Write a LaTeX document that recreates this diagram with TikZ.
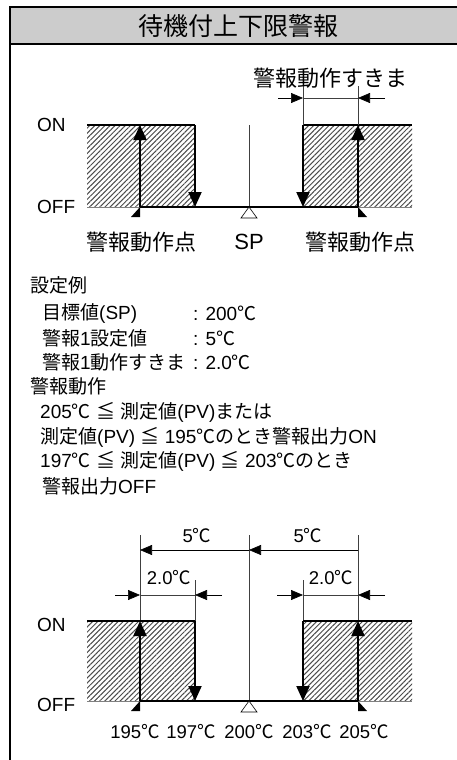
\documentclass[tikz,border=0pt]{standalone}
\usepackage{fontspec}
\setmainfont{Liberation Sans}
\newfontfamily\jp{Noto Sans CJK JP}
\newcommand\degc{{\jp ℃}}
\usetikzlibrary{arrows.meta,patterns.meta}

\begin{document}
\begin{tikzpicture}[x=1pt,y=-1pt,>={Triangle[length=15pt,width=13pt]}]
\tikzstyle{lvl}=[line width=2pt]
\tikzstyle{thin}=[line width=0.6pt,black!75]
\tikzstyle{dimarr}=[line width=0.6pt,-{Triangle[length=12pt,width=10pt]}]
\tikzstyle{hatch}=[pattern={Lines[angle=45,distance=3.6pt,line width=1pt]},pattern color=black!70]
\tikzstyle{tick}=[fill=black]
\tikzstyle{big}=[font=\fontsize{22}{24}\selectfont,inner sep=0pt]
\tikzstyle{txt}=[font=\fontsize{19}{22}\selectfont,anchor=west,inner sep=0pt]
\tikzstyle{lv}=[font=\fontsize{19}{20}\selectfont,anchor=west,inner sep=0pt]
\tikzstyle{tmp}=[font=\fontsize{18.5}{20}\selectfont,inner sep=0pt]
\clip (0,0) rectangle (457,760);
\fill[white] (0,0) rectangle (457,760);

% frame and title
\draw[line width=1.5pt] (10,7) rectangle (480,790);
\draw[line width=1.5pt,fill=black!20] (10,7) rectangle (480,44);
\node[font=\jp\fontsize{25}{27}\selectfont,inner sep=0pt] (title) at (238,26) {待機付上下限警報};

% upper chart
\coordinate (uH0) at (87,125);  \coordinate (uH1) at (87,207);
\coordinate (uA0) at (140,207); \coordinate (uA1) at (140,125);
\coordinate (uB0) at (195,125); \coordinate (uB1) at (195,207);
\coordinate (uS0) at (249,125); \coordinate (uS1) at (249,207);
\coordinate (uC0) at (303,125); \coordinate (uC1) at (303,207);
\coordinate (uD0) at (358,207); \coordinate (uD1) at (358,125);
\coordinate (uE0) at (412,125); \coordinate (uE1) at (412,207);
\fill[hatch] (uH0) rectangle (uB1);
\fill[hatch] (uC0) rectangle (uE1);
\draw[thin,gray] (uH1) -- (uA0);
\draw[thin,gray] (uD0) -- (uE1);
\draw[thin] (uS0) -- (uS1);
\draw[lvl] (uH0) -- (uB0);
\draw[lvl] (uC0) -- (uE0);
\draw[lvl] (uA0) -- (uD0);
\draw[lvl,->] (uA0) -- (uA1);
\draw[lvl,->] (uB0) -- (uB1);
\draw[lvl,->] (uC0) -- (uC1);
\draw[lvl,->] (uD0) -- (uD1);
\fill[tick] (uA0) -- ++(0,10) -- ++(-9,0) -- cycle;
\fill[tick] (uD0) -- ++(0,10) -- ++(9,0) -- cycle;
\draw[line width=0.6pt,fill=white] (uS1) -- ++(8,11) -- ++(-16,0) -- cycle;
\node[lv] (uon) at (37,125) {ON};
\node[lv] (uoff) at (37,207) {OFF};
\node[big,font=\jp\fontsize{22}{24}\selectfont] (upt1) at (141,242) {警報動作点};
\node[big] (usp) at (249,242) {SP};
\node[big,font=\jp\fontsize{22}{24}\selectfont] (upt2) at (360,242) {警報動作点};
% hysteresis width
\coordinate (uW0) at (303,86); \coordinate (uW1) at (358,86);
\coordinate (uM0) at (303,98); \coordinate (uM1) at (358,98);
\coordinate (uL) at (278,98);  \coordinate (uR) at (385,98);
\draw[thin] (uW0) -- (uC0);
\draw[thin] (uW1) -- (uD1);
\draw[thin] (uM0) -- (uM1);
\draw[dimarr] (uL) -- (uM0);
\draw[dimarr] (uR) -- (uM1);
\node[big,font=\jp\fontsize{22}{24}\selectfont] (ugap) at (330,78) {警報動作すきま};

% setting example
\node[txt] (ex0) at (30,285) {{\jp 設定例}};
\node[txt] (ex1) at (42,313) {{\jp 目標値}(SP)};
\node[txt] (ev1) at (193,313) {: 200\degc};
\node[txt] (ex2) at (42,338) {{\jp 警報}1{\jp 設定値}};
\node[txt] (ev2) at (193,338) {: 5\degc};
\node[txt] (ex3) at (42,362) {{\jp 警報}1{\jp 動作すきま}};
\node[txt] (ev3) at (193,362) {: 2.0\degc};
\node[txt] (op0) at (30,386) {{\jp 警報動作}};
\node[txt] (op1) at (40,412) {205\degc{} {\jp ≦} {\jp 測定値}(PV){\jp または}};
\node[txt] (op2) at (40,437) {{\jp 測定値}(PV) {\jp ≦} 195{\jp ℃のとき警報出力}ON};
\node[txt] (op3) at (40,461) {197\degc{} {\jp ≦} {\jp 測定値}(PV) {\jp ≦} 203{\jp ℃のとき}};
\node[txt] (op4) at (42,486) {{\jp 警報出力}OFF};

% lower chart
\coordinate (lH0) at (87,621);  \coordinate (lH1) at (87,701);
\coordinate (lA0) at (140,701); \coordinate (lA1) at (140,621);
\coordinate (lB0) at (195,621); \coordinate (lB1) at (195,701);
\coordinate (lS0) at (249,535); \coordinate (lS1) at (249,701);
\coordinate (lC0) at (303,621); \coordinate (lC1) at (303,701);
\coordinate (lD0) at (358,701); \coordinate (lD1) at (358,621);
\coordinate (lE0) at (412,621); \coordinate (lE1) at (412,701);
\fill[hatch] (lH0) rectangle (lB1);
\fill[hatch] (lC0) rectangle (lE1);
\draw[thin,gray] (lH1) -- (lA0);
\draw[thin,gray] (lD0) -- (lE1);
\draw[thin] (lS0) -- (lS1);
% dimension lines
\coordinate (lT0) at (140,535); \coordinate (lT1) at (358,535);
\coordinate (lG0) at (195,580); \coordinate (lG1) at (303,580);
\draw[thin] (lT0) -- (lA1);
\draw[thin] (lT1) -- (lD1);
\draw[thin] (lG0) -- (lB0);
\draw[thin] (lG1) -- (lC0);
\coordinate (lF0) at (140,550); \coordinate (lF1) at (249,550);
\coordinate (lF2) at (358,550);
\draw[dimarr,{Triangle[length=12pt,width=10pt]}-] (lF0) -- (lF1);
\draw[dimarr,{Triangle[length=12pt,width=10pt]}-] (lF1) -- (lF2);
\node[tmp] (l5a) at (197,536) {5\degc};
\node[tmp] (l5b) at (308,536) {5\degc};
\coordinate (lK0) at (115,595); \coordinate (lK1) at (140,595);
\coordinate (lK2) at (195,595); \coordinate (lK3) at (222,595);
\coordinate (lK4) at (277,595); \coordinate (lK5) at (303,595);
\coordinate (lK6) at (358,595); \coordinate (lK7) at (385,595);
\draw[dimarr] (lK0) -- (lK1);
\draw[thin] (lK1) -- (lK2);
\draw[dimarr] (lK3) -- (lK2);
\draw[dimarr] (lK4) -- (lK5);
\draw[thin] (lK5) -- (lK6);
\draw[dimarr] (lK7) -- (lK6);
\node[tmp] (l2a) at (169,578) {2.0\degc};
\node[tmp] (l2b) at (331,578) {2.0\degc};
% levels
\draw[lvl] (lH0) -- (lB0);
\draw[lvl] (lC0) -- (lE0);
\draw[lvl] (lA0) -- (lD0);
\draw[lvl,->] (lA0) -- (lA1);
\draw[lvl,->] (lB0) -- (lB1);
\draw[lvl,->] (lC0) -- (lC1);
\draw[lvl,->] (lD0) -- (lD1);
\fill[tick] (lA0) -- ++(0,10) -- ++(-9,0) -- cycle;
\fill[tick] (lD0) -- ++(0,10) -- ++(9,0) -- cycle;
\draw[line width=0.6pt,fill=white] (lS1) -- ++(8,11) -- ++(-16,0) -- cycle;
\node[lv] (lon) at (37,625) {ON};
\node[lv] (loff) at (37,705) {OFF};
\node[tmp] (t195) at (135,732) {195\degc};
\node[tmp] (t197) at (191,732) {197\degc};
\node[tmp] (t200) at (249,732) {200\degc};
\node[tmp] (t203) at (307,732) {203\degc};
\node[tmp] (t205) at (364,732) {205\degc};
\end{tikzpicture}
\end{document}
